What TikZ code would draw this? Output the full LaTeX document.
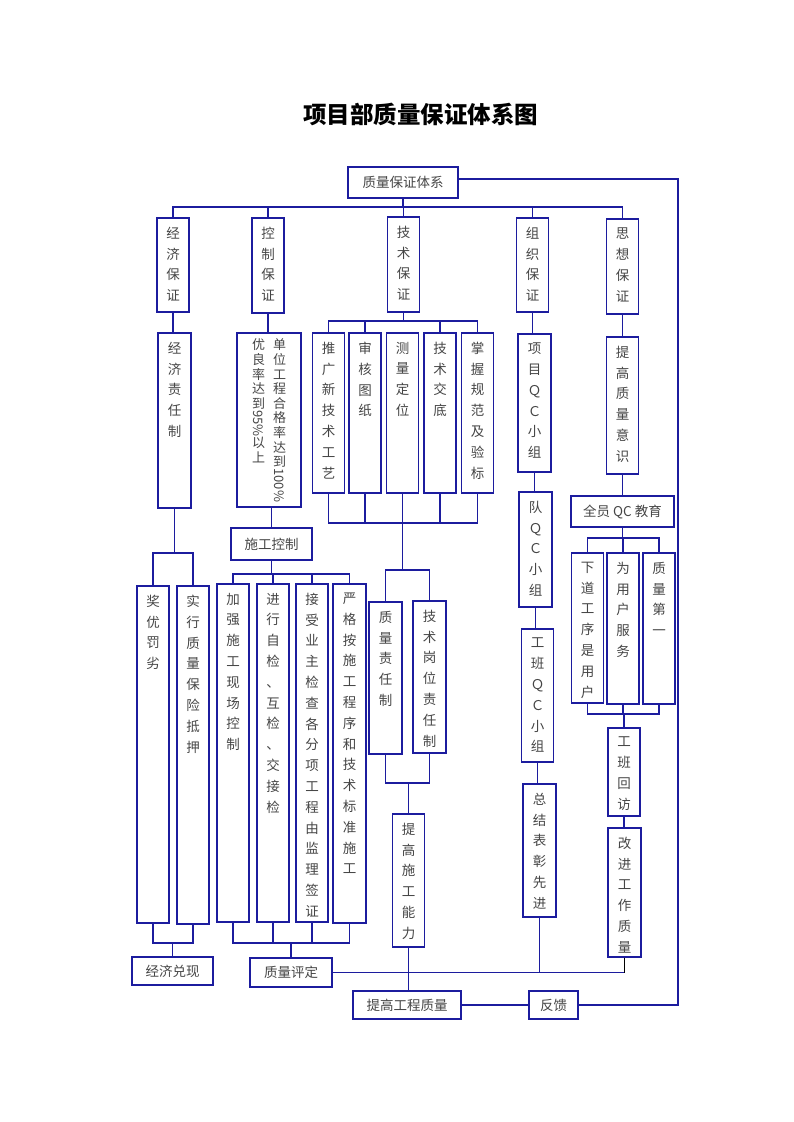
\documentclass[tikz,border=0pt]{standalone}
\usepackage{fontspec}
\setmainfont{Noto Sans CJK SC}
\usepackage{graphicx}
\definecolor{navy}{HTML}{1C1C9E}
\definecolor{ink}{HTML}{454545}
\newcommand{\vfont}{\fontsize{13.5}{20.8}\selectfont}
\newcommand{\vcol}[2]{\parbox[t][#1pt][t]{22pt}{\centering\vspace*{9pt}#2}}
\begin{document}
\begin{tikzpicture}[x=1pt, y=-1pt,
	vbox/.style={draw=navy, line width=1.4pt, inner sep=0pt, minimum width=32pt, text=ink, font=\vfont},
	hbox/.style={draw=navy, line width=1.4pt, inner sep=0pt, text=ink, font=\fontsize{13.5}{16}\selectfont},
	conn/.style={navy, line width=1.4pt}]
	\useasboundingbox (0,0) rectangle (793,1122);
	\node[font=\fontsize{23.5}{28}\selectfont\bfseries] at (420.5,114) (title) {项目部质量保证体系图};
	\node[hbox, minimum width=110pt, minimum height=31pt] at (403,182.5) (sys) {质量保证体系};
	% second row
	\node[vbox] at (173,265) (jjbz) {\vcol{94}{经\\济\\保\\证}};
	\node[vbox] at (268,265.5) (kzbz) {\vcol{95}{控\\制\\保\\证}};
	\node[vbox] at (403.5,264.5) (jsbz) {\vcol{95}{技\\术\\保\\证}};
	\node[vbox] at (532.5,265) (zzbz) {\vcol{94}{组\\织\\保\\证}};
	\node[vbox] at (622.5,266.5) (sxbz) {\vcol{95}{思\\想\\保\\证}};
	% economy
	\node[vbox, minimum width=33pt] at (174.5,420.5) (jjzrz) {\vcol{175}{经\\济\\责\\任\\制}};
	\node[vbox] at (153,754.5) (jyfl) {\vcol{337}{奖\\优\\罚\\劣}};
	\node[vbox] at (193,755) (sxzl) {\vcol{338}{实\\行\\质\\量\\保\\险\\抵\\押}};
	\node[hbox, minimum width=81pt, minimum height=28pt] at (172.5,971) (jjdx) {经济兑现};
	% control
	\node[vbox, minimum width=64pt] at (269,420) (dwgc) {\fontsize{13}{14.6}\selectfont\parbox[t][174pt][t]{16pt}{\centering\vspace*{6pt}优\\良\\率\\达\\到\\\rotatebox[origin=c]{-90}{95\%}\\以\\上}\hspace{5pt}\parbox[t][174pt][t]{16pt}{\centering\vspace*{6pt}单\\位\\工\\程\\合\\格\\率\\达\\到\\\rotatebox[origin=c]{-90}{100\%}}};
	\node[hbox, minimum width=81pt, minimum height=32pt] at (271.5,544) (sgkz) {施工控制};
	\node[vbox] at (233,753) (jq) {\vcol{338}{加\\强\\施\\工\\现\\场\\控\\制}};
	\node[vbox] at (273,753) (jx) {\vcol{338}{进\\行\\自\\检\\、\\互\\检\\、\\交\\接\\检}};
	\node[vbox] at (312,753) (js) {\vcol{338}{接\\受\\业\\主\\检\\查\\各\\分\\项\\工\\程\\由\\监\\理\\签\\证}};
	\node[vbox, minimum width=33pt] at (349.5,753.5) (yg) {\vcol{339}{严\\格\\按\\施\\工\\程\\序\\和\\技\\术\\标\\准\\施\\工}};
	\node[hbox, minimum width=82pt, minimum height=29pt] at (291,972.5) (zlpd) {质量评定};
	% technology
	\node[vbox] at (328.5,413) (tg) {\vcol{160}{推\\广\\新\\技\\术\\工\\艺}};
	\node[vbox] at (365,413) (sh) {\vcol{160}{审\\核\\图\\纸}};
	\node[vbox] at (402.5,413) (cl) {\vcol{160}{测\\量\\定\\位}};
	\node[vbox] at (440,413) (jsjd) {\vcol{160}{技\\术\\交\\底}};
	\node[vbox] at (477.5,413) (zw) {\vcol{160}{掌\\握\\规\\范\\及\\验\\标}};
	\node[vbox, minimum width=33pt] at (385.5,678) (zlzrz) {\vcol{152}{质\\量\\责\\任\\制}};
	\node[vbox, minimum width=33pt] at (429.5,677) (jsgw) {\vcol{152}{技\\术\\岗\\位\\责\\任\\制}};
	\node[vbox] at (408.5,880.5) (tgsg) {\vcol{133}{提\\高\\施\\工\\能\\力}};
	\node[hbox, minimum width=108pt, minimum height=28pt] at (407,1005) (tggc) {提高工程质量};
	\node[hbox, minimum width=49pt, minimum height=28pt] at (553.5,1005) (fk) {反馈};
	% organisation
	\node[vbox, minimum width=33pt] at (534.5,403) (xmqc) {\vcol{138}{项\\目\\Ｑ\\Ｃ\\小\\组}};
	\node[vbox, minimum width=33pt] at (535.5,549.5) (dqc) {\vcol{115}{队\\Ｑ\\Ｃ\\小\\组}};
	\node[vbox] at (537.5,695.5) (gbqc) {\vcol{133}{工\\班\\Ｑ\\Ｃ\\小\\组}};
	\node[vbox, minimum width=33pt] at (539.5,850.5) (zjbz) {\vcol{133}{总\\结\\表\\彰\\先\\进}};
	% thought
	\node[vbox] at (622.5,405.5) (tgzl) {\vcol{137}{提\\高\\质\\量\\意\\识}};
	\node[hbox, minimum width=103pt, minimum height=31pt] at (622.5,511.5) (qyqc) {全员 QC 教育};
	\node[vbox] at (587.5,628) (xdgx) {\vcol{150}{下\\道\\工\\序\\是\\用\\户}};
	\node[vbox] at (623,628.5) (wyh) {\vcol{151}{为\\用\\户\\服\\务}};
	\node[vbox] at (659,628.5) (zldy) {\vcol{151}{质\\量\\第\\一}};
	\node[vbox] at (624,772) (gbhf) {\vcol{88}{工\\班\\回\\访}};
	\node[vbox, minimum width=33pt] at (624.5,892.5) (gjgz) {\vcol{129}{改\\进\\工\\作\\质\\量}};
	
	\coordinate (b0) at (0,207);
	\coordinate (e1) at (0,553);
	\coordinate (e2) at (0,943);
	\coordinate (c1) at (0,574);
	\coordinate (c2) at (0,943);
	\coordinate (t1) at (0,321);
	\coordinate (t2) at (0,523);
	\coordinate (t3) at (0,570);
	\coordinate (t4) at (0,783);
	\coordinate (s1) at (0,538);
	\coordinate (s2) at (0,714);
	\coordinate (fb) at (678,179);
	
	\draw[conn] (sys.south) -- (sys.south |- b0);
	\draw[conn] (jjbz.north) -- (jjbz.north |- b0) -- (sxbz.north |- b0) -- (sxbz.north);
	\draw[conn] (kzbz.north) -- (kzbz.north |- b0) (jsbz.north) -- (jsbz.north |- b0) (zzbz.north) -- (zzbz.north |- b0);
	% economy
	\draw[conn] (jjbz.south) -- (jjbz.south |- jjzrz.north);
	\draw[conn] (jjzrz.south) -- (jjzrz.south |- e1);
	\draw[conn] (jyfl.north) -- (jyfl.north |- e1) -- (sxzl.north |- e1) -- (sxzl.north);
	\draw[conn] (jyfl.south) -- (jyfl.south |- e2) -- (sxzl.south |- e2) -- (sxzl.south);
	\draw[conn] (jjdx.north) -- (jjdx.north |- e2);
	% control
	\draw[conn] (kzbz.south) -- (kzbz.south |- dwgc.north);
	\draw[conn] (sgkz.north) -- (sgkz.north |- dwgc.south);
	\draw[conn] (sgkz.south) -- (sgkz.south |- c1);
	\draw[conn] (jq.north) -- (jq.north |- c1) -- (yg.north |- c1) -- (yg.north);
	\draw[conn] (jx.north) -- (jx.north |- c1) (js.north) -- (js.north |- c1);
	\draw[conn] (jq.south) -- (jq.south |- c2) -- (yg.south |- c2) -- (yg.south);
	\draw[conn] (jx.south) -- (jx.south |- c2) (js.south) -- (js.south |- c2);
	\draw[conn] (zlpd.north) -- (zlpd.north |- c2);
	% technology
	\draw[conn] (jsbz.south) -- (jsbz.south |- t1);
	\draw[conn] (tg.north) -- (tg.north |- t1) -- (zw.north |- t1) -- (zw.north);
	\draw[conn] (sh.north) -- (sh.north |- t1) (jsjd.north) -- (jsjd.north |- t1);
	\draw[conn] (tg.south) -- (tg.south |- t2) -- (zw.south |- t2) -- (zw.south);
	\draw[conn] (sh.south) -- (sh.south |- t2) (jsjd.south) -- (jsjd.south |- t2);
	\draw[conn] (cl.south) -- (cl.south |- t3);
	\draw[conn] (zlzrz.north) -- (zlzrz.north |- t3) -- (jsgw.north |- t3) -- (jsgw.north);
	\draw[conn] (zlzrz.south) -- (zlzrz.south |- t4) -- (jsgw.south |- t4) -- (jsgw.south);
	\draw[conn] (tgsg.north) -- (tgsg.north |- t4);
	\draw[conn] (tgsg.south) -- (tgsg.south |- tggc.north);
	% organisation
	\draw[conn] (zzbz.south) -- (zzbz.south |- xmqc.north);
	\draw[conn] (xmqc.south) -- (xmqc.south |- dqc.north);
	\draw[conn] (dqc.south) -- (dqc.south |- gbqc.north);
	\draw[conn] (gbqc.south) -- (gbqc.south |- zjbz.north);
	% thought
	\draw[conn] (sxbz.south) -- (sxbz.south |- tgzl.north);
	\draw[conn] (tgzl.south) -- (tgzl.south |- qyqc.north);
	\draw[conn] (qyqc.south) -- (qyqc.south |- s1);
	\draw[conn] (xdgx.north) -- (xdgx.north |- s1) -- (zldy.north |- s1) -- (zldy.north);
	\draw[conn] (wyh.north) -- (wyh.north |- s1);
	\draw[conn] (xdgx.south) -- (xdgx.south |- s2) -- (zldy.south |- s2) -- (zldy.south);
	\draw[conn] (wyh.south) -- (wyh.south |- s2);
	\draw[conn] (gbhf.north) -- (gbhf.north |- s2);
	\draw[conn] (gbhf.south) -- (gbhf.south |- gjgz.north);
	% bottom and feedback
	\draw[conn] (zlpd.east) -- (gjgz.south |- zlpd.east);
	\draw[conn] (zjbz.south) -- (zjbz.south |- zlpd.east);
	\draw[conn, black] (gjgz.south) -- (gjgz.south |- zlpd.east);
	\draw[conn] (tggc.east) -- (fk.west);
	\draw[conn] (fk.east) -| (fb) -- (sys.east |- fb);
\end{tikzpicture}
\end{document}
